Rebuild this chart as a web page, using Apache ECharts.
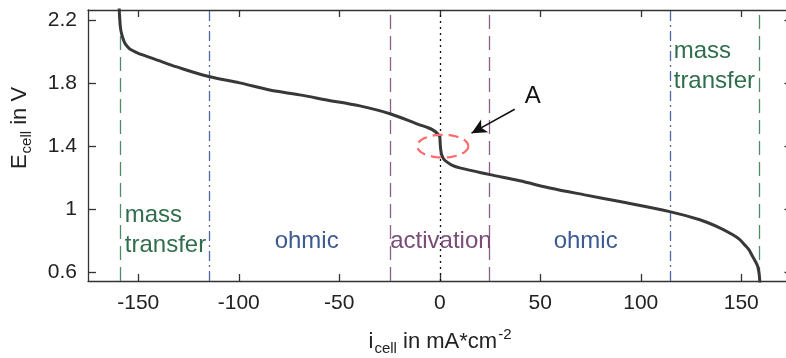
<!DOCTYPE html>
<html>
<head>
<meta charset="utf-8">
<script src="https://cdn.jsdelivr.net/npm/echarts@6/dist/echarts.min.js"></script>
<style>
  html, body { margin: 0; padding: 0; background: #fff; }
  #chart { width: 786px; height: 358px; }
</style>
</head>
<body>
<div id="chart"></div>
<script>
// polarisation curve
const iCell = [-159.6, -159.2, -158.7, -157.8, -156.7, -155.5, -154.2, -151, -147.8, -139.3, -130.8,
  -114.9, -99.5, -84.6, -69.7, -56.2, -39.8, -24.4, -10, -6.5, -3.5, -1, 0, 0.2, 0.5, 1, 2, 3.5, 6, 10,
  24.4, 39.8, 54.7, 72.1, 89.6, 114.4, 129.4, 139.3, 145.8, 149, 151.7, 153.7, 155.2, 157, 158.2,
  158.9, 159.2, 159.5];
const eCell = [2.32, 2.2, 2.137, 2.09, 2.054, 2.033, 2.016, 1.995, 1.978, 1.94, 1.902,
  1.841, 1.801, 1.756, 1.725, 1.693, 1.655, 1.604, 1.535, 1.52, 1.503, 1.478, 1.459, 1.42, 1.376, 1.344, 1.318, 1.3, 1.28, 1.262,
  1.221, 1.18, 1.135, 1.091, 1.049, 0.985, 0.933, 0.882, 0.838, 0.81, 0.774, 0.745, 0.711, 0.67, 0.637,
  0.59, 0.546, 0.48];

// region boundaries
const massX = [-159, 159];
const ohmicX = [-114.5, 114.5];
const activationX = [-24.5, 24.5];
const zeroX = [0];

// tick labels
const xTicks = [-150, -100, -50, 0, 50, 100, 150];
const yTicks = [0.6, 1, 1.4, 1.8, 2.2];

// annotations
const noteText = ['mass\ntransfer', 'ohmic', 'activation', 'ohmic', 'mass\ntransfer', 'A'];
const noteX = [-156.7, -66.2, 0.6, 72.6, 116.4, 46.3];
const noteY = [0.869, 0.795, 0.795, 0.795, 1.908, 1.714];
const noteAlign = ['left', 'center', 'center', 'center', 'left', 'center'];
const noteColor = ['#2f6e4c', '#3d5a93', '#7a4c78', '#3d5a93', '#2f6e4c', '#111'];

// marked region "A"
const ringCenter = [1.5, 1.40];
const ringRadius = [12.7, 0.072];
const arrowFrom = [37.3, 1.634];
const arrowTo = [15.8, 1.482];

const FONT = '"Liberation Sans", Arial, sans-serif';
const GREEN = '#4f8a6b', BLUE = '#4d6aa3', PURPLE = '#8c5c8a';

const chart = echarts.init(document.getElementById('chart'));

function vLines(xs, color, dash) {
  return {
    type: 'line',
    data: [],
    markLine: {
      silent: true,
      symbol: ['none', 'none'],
      label: { show: false },
      lineStyle: { color: color, width: 1.3, type: dash },
      data: xs.map(x => ({ xAxis: x }))
    }
  };
}

const axisLine = { onZero: false, lineStyle: { color: '#333', width: 1.3 } };
const tickStyle = { color: '#333', width: 1.3 };

chart.setOption({
  animation: false,
  grid: { left: 88, top: 10, width: 703.5, height: 271, containLabel: false, outerBoundsMode: 'none' },
  xAxis: [{
    type: 'value', min: -175, max: 175, position: 'bottom',
    axisLine: axisLine,
    axisTick: { inside: true, length: 7, customValues: xTicks, lineStyle: tickStyle },
    axisLabel: { customValues: xTicks, color: '#222', fontSize: 21, fontFamily: FONT, margin: 12 },
    splitLine: { show: false }
  }, {
    type: 'value', min: -175, max: 175, position: 'top',
    axisLine: axisLine,
    axisTick: { inside: true, length: 7, customValues: xTicks, lineStyle: tickStyle },
    axisLabel: { show: false },
    splitLine: { show: false }
  }],
  yAxis: [{
    type: 'value', min: 0.545, max: 2.263, position: 'left',
    axisLine: axisLine,
    axisTick: { inside: true, length: 8, customValues: yTicks, lineStyle: tickStyle },
    axisLabel: { customValues: yTicks, color: '#222', fontSize: 21, fontFamily: FONT, margin: 11 },
    splitLine: { show: false }
  }, {
    type: 'value', min: 0.545, max: 2.263, position: 'right',
    axisLine: axisLine,
    axisTick: { inside: true, length: 7, customValues: yTicks, lineStyle: tickStyle },
    axisLabel: { show: false },
    splitLine: { show: false }
  }],
  series: [
    vLines(massX, GREEN, [14, 7]),
    vLines(ohmicX, BLUE, [10, 4, 2, 4]),
    vLines(activationX, PURPLE, [14, 7]),
    vLines(zeroX, '#111', [2, 4]),
    {
      type: 'line',
      data: iCell.map((x, i) => [x, eCell[i]]),
      showSymbol: false,
      smooth: 0.35,
      lineStyle: { color: '#383838', width: 3 },
      z: 5
    },
    {
      // dashed ring around the activation step
      type: 'custom',
      data: [ringCenter],
      z: 6,
      renderItem: (params, api) => {
        const c = api.coord([api.value(0), api.value(1)]);
        const s = api.size(ringRadius);
        const pts = [];
        for (let k = 0; k <= 72; k++) {
          const t = k / 72 * Math.PI * 2;
          pts.push([c[0] + s[0] * Math.cos(t), c[1] + s[1] * Math.sin(t)]);
        }
        return {
          type: 'polyline',
          shape: { points: pts },
          style: { stroke: '#ff6a6a', lineWidth: 2.2, fill: null, lineDash: [10, 6] }
        };
      }
    },
    {
      type: 'line',
      data: [],
      markLine: {
        silent: true,
        symbol: ['none', 'arrow'],
        symbolSize: [11, 15],
        label: { show: false },
        lineStyle: { color: '#111', width: 1.5, type: 'solid' },
        data: [[{ coord: arrowFrom }, { coord: arrowTo }]]
      }
    },
    {
      type: 'custom',
      data: noteX.map((x, i) => [x, noteY[i]]),
      z: 10,
      renderItem: (params, api) => {
        const i = params.dataIndex;
        const p = api.coord([api.value(0), api.value(1)]);
        return {
          type: 'text',
          x: p[0], y: p[1],
          style: {
            text: noteText[i], fill: noteColor[i], fontSize: 24, fontFamily: FONT,
            align: noteAlign[i], verticalAlign: 'middle', lineHeight: 30
          }
        };
      }
    }
  ],
  graphic: [
    {
      type: 'text', x: 440, y: 342,
      style: {
        text: '{b|i}{s|cell}{b| in mA*cm}{p|-2}',
        align: 'center', verticalAlign: 'middle', fill: '#222',
        rich: {
          b: { fontSize: 22, fontFamily: FONT, fill: '#222' },
          s: { fontSize: 15, fontFamily: FONT, fill: '#222', padding: [14, 0, 0, 1] },
          p: { fontSize: 15, fontFamily: FONT, fill: '#222', padding: [0, 0, 14, 1] }
        }
      }
    },
    {
      type: 'text', x: 20, y: 128, rotation: Math.PI / 2,
      style: {
        text: '{b|E}{s|cell}{b| in V}',
        align: 'center', verticalAlign: 'middle', fill: '#222',
        rich: {
          b: { fontSize: 22, fontFamily: FONT, fill: '#222' },
          s: { fontSize: 15, fontFamily: FONT, fill: '#222', padding: [14, 0, 0, 1] }
        }
      }
    }
  ]
});
</script>
</body>
</html>
